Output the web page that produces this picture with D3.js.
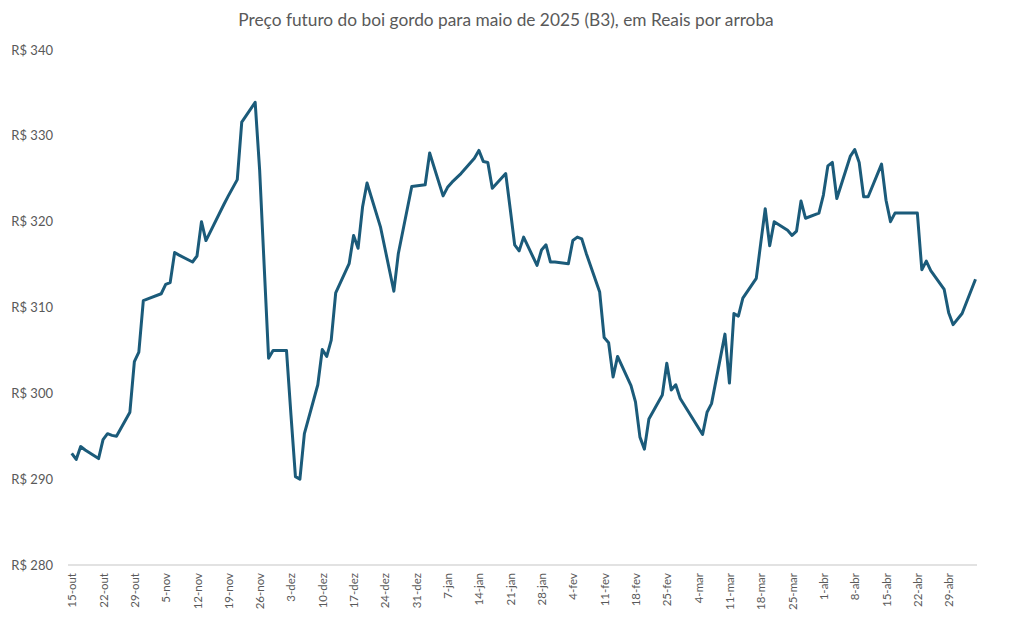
<!DOCTYPE html>
<html lang="pt-BR">
<head>
  <meta charset="UTF-8">
  <title>Boi gordo B3</title>
  <script src="https://cdn.jsdelivr.net/npm/d3@7"></script>
  <style>
    body { margin: 0; background: #fff; }
    .chart text { font-family: Lato, "Open Sans", sans-serif; fill: #595959; }
    .line { fill: none; stroke: #1b5b7a; stroke-width: 3px; stroke-linejoin: round; }
  </style>
</head>
<body>
<div class="chart"></div>
<script>
  // pregões (datas) e preços em R$/@
  const dias = [
    '2024-10-15','2024-10-16','2024-10-17','2024-10-18','2024-10-21','2024-10-22','2024-10-23','2024-10-24','2024-10-25','2024-10-28','2024-10-29','2024-10-30','2024-10-31',
    '2024-11-01','2024-11-04','2024-11-05','2024-11-06','2024-11-07','2024-11-08','2024-11-11','2024-11-12','2024-11-13','2024-11-14','2024-11-18','2024-11-19','2024-11-21','2024-11-22','2024-11-25','2024-11-26','2024-11-27','2024-11-28','2024-11-29',
    '2024-12-02','2024-12-03','2024-12-04','2024-12-05','2024-12-06','2024-12-09','2024-12-10','2024-12-11','2024-12-12','2024-12-13','2024-12-16','2024-12-17','2024-12-18','2024-12-19','2024-12-20','2024-12-23','2024-12-24','2024-12-26','2024-12-27','2024-12-30',
    '2025-01-02','2025-01-03','2025-01-06','2025-01-07','2025-01-08','2025-01-09','2025-01-10','2025-01-13','2025-01-14','2025-01-15','2025-01-16','2025-01-17','2025-01-20','2025-01-21','2025-01-22','2025-01-23','2025-01-24','2025-01-27','2025-01-28','2025-01-29','2025-01-30','2025-01-31',
    '2025-02-03','2025-02-04','2025-02-05','2025-02-06','2025-02-07','2025-02-10','2025-02-11','2025-02-12','2025-02-13','2025-02-14','2025-02-17','2025-02-18','2025-02-19','2025-02-20','2025-02-21','2025-02-24','2025-02-25','2025-02-26','2025-02-27','2025-02-28',
    '2025-03-05','2025-03-06','2025-03-07','2025-03-10','2025-03-11','2025-03-12','2025-03-13','2025-03-14','2025-03-17','2025-03-18','2025-03-19','2025-03-20','2025-03-21','2025-03-24','2025-03-25','2025-03-26','2025-03-27','2025-03-28','2025-03-31',
    '2025-04-01','2025-04-02','2025-04-03','2025-04-04','2025-04-07','2025-04-08','2025-04-09','2025-04-10','2025-04-11','2025-04-14','2025-04-15','2025-04-16','2025-04-17','2025-04-22','2025-04-23','2025-04-24','2025-04-25','2025-04-28','2025-04-29','2025-04-30',
    '2025-05-02','2025-05-05'
  ];
  const precos = [
    293.0, 292.3, 293.8, 293.4, 292.4, 294.6, 295.3, 295.1, 295.0, 297.8, 303.7, 304.8, 310.8,
    311.0, 311.6, 312.7, 312.9, 316.4, 316.1, 315.3, 316.0, 320.0, 317.8, 322.0, 323.0, 324.9, 331.6, 333.9, 326.0, 315.0, 304.1, 305.0,
    305.0, 297.5, 290.3, 290.0, 295.3, 301.0, 305.1, 304.3, 306.2, 311.7, 315.1, 318.4, 316.9, 321.7, 324.5, 319.4, 316.9, 311.9, 316.3, 324.1,
    324.3, 328.0, 323.0, 324.0, 324.6, 325.1, 325.6, 327.4, 328.3, 327.0, 326.9, 323.9, 325.6, 321.5, 317.3, 316.6, 318.2, 314.9, 316.7, 317.3, 315.3, 315.3,
    315.1, 317.8, 318.2, 318.0, 316.3, 311.8, 306.5, 305.9, 301.9, 304.3, 300.9, 299.0, 294.9, 293.5, 297.0, 299.8, 303.5, 300.4, 301.0, 299.4,
    295.2, 297.8, 298.8, 306.9, 301.2, 309.3, 309.0, 311.1, 313.4, 317.5, 321.5, 317.2, 320.0, 319.0, 318.4, 318.9, 322.4, 320.4, 321.0,
    323.1, 326.5, 326.9, 322.7, 327.6, 328.4, 326.9, 322.9, 322.9, 326.7, 322.5, 320.0, 321.0, 321.0, 314.4, 315.4, 314.3, 312.1, 309.4, 308.0,
    309.3, 313.3
  ];
  const xTicks = [
    '2024-10-15','2024-10-22','2024-10-29','2024-11-05','2024-11-12','2024-11-19','2024-11-26',
    '2024-12-03','2024-12-10','2024-12-17','2024-12-24','2024-12-31','2025-01-07','2025-01-14',
    '2025-01-21','2025-01-28','2025-02-04','2025-02-11','2025-02-18','2025-02-25','2025-03-04',
    '2025-03-11','2025-03-18','2025-03-25','2025-04-01','2025-04-08','2025-04-15','2025-04-22','2025-04-29'
  ];
  const meses = ['jan','fev','mar','abr','mai','jun','jul','ago','set','out','nov','dez'];
  const yTicks = [280, 290, 300, 310, 320, 330, 340];
  const titulo = 'Preço futuro do boi gordo para maio de 2025 (B3), em Reais por arroba';

  const W = 1012, H = 629;
  const parse = d3.timeParse('%Y-%m-%d');
  const data = dias.map((d, i) => ({ date: parse(d), v: precos[i] }));

  const svg = d3.select('.chart').append('svg').attr('width', W).attr('height', H);

  const plot = { left: 68, right: 977, top: 50, bottom: 565 };
  const x = d3.scaleTime()
    .domain([d3.timeHour.offset(parse('2024-10-15'), -20), d3.timeHour.offset(parse('2025-05-05'), 8)])
    .range([plot.left, plot.right]);
  const y = d3.scaleLinear().domain([280, 340]).range([plot.bottom, plot.top]);

  svg.append('text')
    .attr('x', 506).attr('y', 26)
    .attr('text-anchor', 'middle')
    .style('font-size', '17.3px')
    .text(titulo);

  // eixo y, só rótulos
  svg.append('g').selectAll('text').data(yTicks).enter().append('text')
    .attr('x', 53).attr('y', d => y(d)).attr('dy', '0.35em')
    .attr('text-anchor', 'end')
    .style('font-size', '13px')
    .text(d => `R$ ${d}`);

  // linha base
  svg.append('line')
    .attr('x1', plot.left).attr('x2', plot.right)
    .attr('y1', y(280)).attr('y2', y(280))
    .attr('stroke', '#d9d9d9').attr('stroke-width', 1.5);

  const xAxis = svg.append('g').attr('transform', `translate(0 ${plot.bottom})`)
    .call(d3.axisBottom(x).tickValues(xTicks.map(parse)).tickSize(0)
      .tickFormat(d => `${d.getDate()}-${meses[d.getMonth()]}`));
  xAxis.select('.domain').remove();
  xAxis.selectAll('text')
    .attr('transform', 'rotate(-90)')
    .attr('x', -8).attr('y', 0).attr('dy', '0.35em')
    .attr('text-anchor', 'end')
    .style('font-size', '11.5px')
    .style('font-family', 'Lato, sans-serif')
    .attr('fill', '#595959');

  const line = d3.line().x(d => x(d.date)).y(d => y(d.v));
  svg.append('path').datum(data).attr('class', 'line').attr('d', line);
</script>
</body>
</html>
